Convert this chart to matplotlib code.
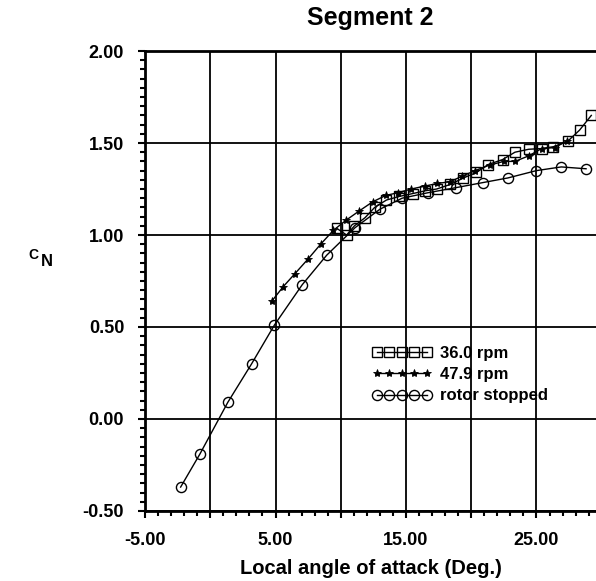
import matplotlib
matplotlib.use('Agg')
import matplotlib.pyplot as plt
from matplotlib.ticker import MultipleLocator, FixedLocator

plt.rcParams['font.family'] = ['Liberation Sans', 'DejaVu Sans']
plt.rcParams['font.weight'] = 'bold'

# data
rpm36_x = [9.7, 10.45, 11.05, 11.86, 12.6, 13.5, 14.5, 15.5, 16.45, 17.35, 18.4, 19.4,
           20.4, 21.3, 22.4, 23.35, 24.4, 25.4, 26.3, 27.4, 28.3, 29.2]
rpm36_y = [1.036, 1.00, 1.05, 1.094, 1.15, 1.19, 1.21, 1.225, 1.24, 1.25, 1.275, 1.31,
           1.34, 1.383, 1.41, 1.45, 1.466, 1.47, 1.48, 1.51, 1.57, 1.65]

rpm48_x = [4.71, 5.6, 6.49, 7.5, 8.46, 9.43, 10.4, 11.4, 12.44, 13.45, 14.4, 15.4, 16.45,
           17.4, 18.4, 19.3, 20.3, 21.4, 22.5, 23.35, 24.4, 25.4, 26.4, 27.3]
rpm48_y = [0.64, 0.72, 0.79, 0.87, 0.95, 1.025, 1.08, 1.13, 1.18, 1.215, 1.23, 1.25, 1.266,
           1.28, 1.29, 1.32, 1.35, 1.38, 1.40, 1.40, 1.43, 1.47, 1.475, 1.51]

stop_x = [-2.27, -0.79, 1.34, 3.17, 4.91, 7.05, 8.92, 11.1, 13.0, 14.7, 16.7, 18.8,
          20.9, 22.8, 25.0, 26.9, 28.8]
stop_y = [-0.37, -0.19, 0.09, 0.30, 0.51, 0.73, 0.89, 1.04, 1.14, 1.20, 1.23, 1.257,
          1.285, 1.31, 1.35, 1.37, 1.36]

x_ticks = [-5, 0, 5, 10, 15, 20, 25]
x_labels = ['-5.00', '', '5.00', '', '15.00', '', '25.00']
y_ticks = [-0.5, 0.0, 0.5, 1.0, 1.5, 2.0]
y_labels = ['-0.50', '0.00', '0.50', '1.00', '1.50', '2.00']

fig = plt.figure(figsize=(5.96, 5.81), dpi=100)
ax = fig.add_axes([0.2433, 0.1205, 0.7567, 0.7917])

ax.plot(rpm36_x, rpm36_y, color='black', lw=1, marker='s', ms=6.5,
        mfc='none', mec='black', mew=1, label='36.0 rpm')
ax.plot(rpm48_x, rpm48_y, color='black', lw=1, marker='*', ms=6,
        mfc='black', mec='black', mew=0.6, label='47.9 rpm')
ax.plot(stop_x, stop_y, color='black', lw=1, marker='o', ms=7.3,
        mfc='none', mec='black', mew=1, label='rotor stopped')

ax.set_xlim(-5, 29.56)
ax.set_ylim(-0.5, 2.0)

ax.xaxis.set_major_locator(FixedLocator(x_ticks))
ax.set_xticklabels(x_labels)
ax.xaxis.set_minor_locator(MultipleLocator(1))
ax.yaxis.set_major_locator(FixedLocator(y_ticks))
ax.set_yticklabels(y_labels)
ax.yaxis.set_minor_locator(MultipleLocator(0.05))

ax.tick_params(which='major', direction='out', length=5, width=1.5,
               labelsize=13, pad=10)
ax.tick_params(which='minor', direction='out', length=3.5, width=1.5)
for lab in ax.get_xticklabels() + ax.get_yticklabels():
    lab.set_fontweight('bold')

ax.grid(True, which='major', color='black', lw=1.3)

ax.spines['right'].set_visible(False)
for s in ['left', 'bottom', 'top']:
    ax.spines[s].set_linewidth(2)

ax.set_title('Segment 2', fontsize=18, fontweight='bold', pad=19)
ax.set_xlabel('Local angle of attack (Deg.)', fontsize=14.5, fontweight='bold', labelpad=7)

fig.text(0.047, 0.555, 'C', fontsize=10, fontweight='bold', ha='left', va='baseline')
fig.text(0.068, 0.542, 'N', fontsize=12, fontweight='bold', ha='left', va='baseline')

leg = ax.legend(loc='upper left', bbox_to_anchor=(0.624, 0.405),
                bbox_transform=fig.transFigure, frameon=False, numpoints=5,
                handlelength=3.6, handletextpad=0.5, labelspacing=0.38,
                borderpad=0, borderaxespad=0, prop={'size': 12, 'weight': 'bold'})

fig.savefig('out.png', dpi=100)
